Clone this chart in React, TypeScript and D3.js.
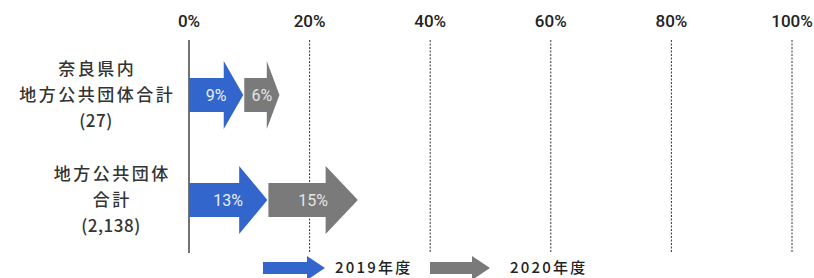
import React from "react";
import * as d3 from "d3";

const categoryLines: string[][] = [
  ["奈良県内", "地方公共団体合計", "(27)"],
  ["地方公共団体", "合計", "(2,138)"],
];
const categories = ["nara", "all"];
const values2019 = [9, 13];
const values2020 = [6, 15];
const tickValues = [0, 20, 40, 60, 80, 100];
const seriesNames = ["2019年度", "2020年度"];
const seriesColors = ["#3366cc", "#7a7a7a"];

const W = 814;
const H = 278;
const labelCenterX = [96, 111];

function arrowPath(x0: number, x1: number, cy: number, bodyHalf: number, headHalf: number, headLen: number) {
  const p = d3.path();
  const hb = x1 - headLen;
  p.moveTo(x0, cy - bodyHalf);
  p.lineTo(hb, cy - bodyHalf);
  p.lineTo(hb, cy - headHalf);
  p.lineTo(x1, cy);
  p.lineTo(hb, cy + headHalf);
  p.lineTo(hb, cy + bodyHalf);
  p.lineTo(x0, cy + bodyHalf);
  p.closePath();
  return p.toString();
}

export default function App() {
  const x = d3.scaleLinear().domain([0, 100]).range([189, 792]);
  const y = d3.scalePoint<string>().domain(categories).range([95, 200]);
  const cjk = "'Noto Sans CJK JP', 'Noto Sans', sans-serif";
  const lat = "Roboto, 'Liberation Sans', Arial, sans-serif";

  return (
    <svg
      width={W}
      height={H}
      style={{ position: "absolute", left: 0, top: 0, background: "#fff" }}
    >
      {/* tick labels */}
      {tickValues.map((t) => (
        <text
          key={"tl" + t}
          x={x(t)}
          y={27}
          textAnchor="middle"
          fontFamily={lat}
          fontSize={17}
          fontWeight={500}
          fill="#222"
        >
          {t}%
        </text>
      ))}
      {/* grid lines */}
      {tickValues.map((t) => (
        <line
          key={"gl" + t}
          x1={x(t)}
          x2={x(t)}
          y1={40}
          y2={253}
          stroke={t === 0 ? "#444" : "#333"}
          strokeWidth={t === 0 ? 1.5 : 1}
          strokeDasharray={t === 0 ? undefined : "2,1.5"}
        />
      ))}
      {/* category labels */}
      {categories.map((c, i) => {
        const cy = y(c)!;
        const lines = categoryLines[i];
        const lh = 26;
        return (
          <text
            key={"cl" + c}
            textAnchor="middle"
            fontFamily={cjk}
            fontSize={17}
            fontWeight={500}
            fill="#333"
          >
            {lines.map((l, j) => {
              const isNum = l.startsWith("(");
              return (
                <tspan
                  key={j}
                  x={labelCenterX[i] + (isNum ? 0 : 1.25)}
                  y={cy + (j - (lines.length - 1) / 2) * lh + 6}
                  letterSpacing={isNum ? 0.5 : 2.5}
                >
                  {l}
                </tspan>
              );
            })}
          </text>
        );
      })}
      {/* arrows */}
      {categories.map((c, i) => {
        const cy = y(c)!;
        const a0 = x(0);
        const a1 = x(values2019[i]);
        const b0 = a1 + 1;
        const b1 = x(values2019[i] + values2020[i]);
        return (
          <g key={"ar" + c}>
            <path d={arrowPath(a0, a1, cy, 17, 34, (a1 - a0) * 0.36)} fill={seriesColors[0]} />
            <path d={arrowPath(b0, b1, cy, 17, 34, (b1 - b0) * 0.36)} fill={seriesColors[1]} />
            <text
              x={(a0 + a1) / 2}
              y={cy + 6}
              textAnchor="middle"
              fontFamily={lat}
              fontSize={16}
              fill="#e8eef8"
            >
              {values2019[i]}%
            </text>
            <text
              x={(b0 + b1) / 2}
              y={cy + 6}
              textAnchor="middle"
              fontFamily={lat}
              fontSize={16}
              fill="#e4e4e4"
            >
              {values2020[i]}%
            </text>
          </g>
        );
      })}
      {/* legend */}
      {seriesNames.map((s, i) => {
        const lx = i === 0 ? 263 : 430;
        const len = i === 0 ? 62 : 60;
        const cy = 268;
        return (
          <g key={"lg" + s}>
            <path d={arrowPath(lx, lx + len, cy, 6, 12, 18)} fill={seriesColors[i]} />
            <text
              x={lx + len + (i === 0 ? 10 : 20)}
              y={273}
              fontFamily={cjk}
              fontSize={15}
              fontWeight={500}
              fill="#222"
              letterSpacing={2.2}
            >
              {s}
            </text>
          </g>
        );
      })}
    </svg>
  );
}
